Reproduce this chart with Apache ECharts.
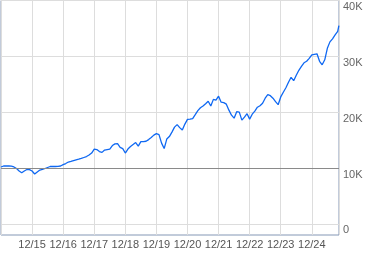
<!DOCTYPE html>
<html>
<head>
<meta charset="utf-8">
<script src="https://cdn.jsdelivr.net/npm/echarts@6/dist/echarts.min.js"></script>
<style>
html,body{margin:0;padding:0;background:#fff;}
#c{width:379px;height:255px;}
</style>
</head>
<body>
<div id="c"></div>
<script>
// Monthly dates (first of month) and portfolio value in K
var dates = [
'2015-01-01','2015-02-01','2015-03-01','2015-04-01','2015-05-01','2015-06-01','2015-07-01','2015-08-01','2015-09-01','2015-10-01','2015-11-01','2015-12-01',
'2016-01-01','2016-02-01','2016-03-01','2016-04-01','2016-05-01','2016-06-01','2016-07-01','2016-08-01','2016-09-01','2016-10-01','2016-11-01','2016-12-01',
'2017-01-01','2017-02-01','2017-03-01','2017-04-01','2017-05-01','2017-06-01','2017-07-01','2017-08-01','2017-09-01','2017-10-01','2017-11-01','2017-12-01',
'2018-01-01','2018-02-01','2018-03-01','2018-04-01','2018-05-01','2018-06-01','2018-07-01','2018-08-01','2018-09-01','2018-10-01','2018-11-01','2018-12-01',
'2019-01-01','2019-02-01','2019-03-01','2019-04-01','2019-05-01','2019-06-01','2019-07-01','2019-08-01','2019-09-01','2019-10-01','2019-11-01','2019-12-01',
'2020-01-01','2020-02-01','2020-03-01','2020-04-01','2020-05-01','2020-06-01','2020-07-01','2020-08-01','2020-09-01','2020-10-01','2020-11-01','2020-12-01',
'2021-01-01','2021-02-01','2021-03-01','2021-04-01','2021-05-01','2021-06-01','2021-07-01','2021-08-01','2021-09-01','2021-10-01','2021-11-01','2021-12-01',
'2022-01-01','2022-02-01','2022-03-01','2022-04-01','2022-05-01','2022-06-01','2022-07-01','2022-08-01','2022-09-01','2022-10-01','2022-11-01','2022-12-01',
'2023-01-01','2023-02-01','2023-03-01','2023-04-01','2023-05-01','2023-06-01','2023-07-01','2023-08-01','2023-09-01','2023-10-01','2023-11-01','2023-12-01',
'2024-01-01','2024-02-01','2024-03-01','2024-04-01','2024-05-01','2024-06-01','2024-07-01','2024-08-01','2024-09-01','2024-10-01','2024-11-01','2024-12-01',
'2025-01-01','2025-02-01','2025-03-01','2025-04-01','2025-05-01','2025-06-01','2025-07-01','2025-08-01','2025-09-01','2025-10-01','2025-11-01','2025-11-15'
];
var valuesK = [
10.18,10.36,10.36,10.36,10.32,10.18,9.91,9.46,9.14,9.46,9.73,9.71,
9.46,8.93,9.29,9.64,9.77,9.91,10.09,10.27,10.27,10.27,10.30,10.36,
10.59,10.80,11.07,11.20,11.34,11.46,11.57,11.71,11.88,12.05,12.32,12.68,
13.39,13.30,12.95,12.80,13.21,13.30,13.39,14.02,14.32,14.38,13.70,13.48,
12.68,13.39,13.84,14.20,14.55,13.93,14.73,14.73,14.79,15.09,15.45,15.89,
16.16,15.98,14.46,13.48,15.18,15.63,16.43,17.32,17.77,17.23,16.79,17.86,
18.70,18.75,18.84,19.55,20.27,20.79,21.11,21.52,21.96,21.11,22.29,22.14,
22.86,21.79,21.70,21.43,20.36,19.46,18.93,20.09,20.00,18.57,19.11,19.73,
18.75,19.64,20.18,20.89,21.16,21.61,22.50,23.13,22.95,22.50,21.88,21.34,
22.73,23.57,24.38,25.36,26.25,25.63,26.61,27.50,28.21,28.84,29.11,29.64,
30.27,30.36,30.45,29.11,28.48,29.38,31.43,32.59,33.13,33.84,34.46,35.50
];
var yTicks = [0, 10000, 20000, 30000, 40000];
var yTickLabels = ['0', '10K', '20K', '30K', '40K'];
var baseline = 10000;

function toYear(s) {
  var p = s.split('-');
  return +p[0] + (+p[1] - 1) / 12 + (+p[2] - 1) / 365;
}
var data = dates.map(function (d, i) { return [toYear(d), valuesK[i] * 1000]; });

var chart = echarts.init(document.getElementById('c'), null, {renderer: 'canvas'});
chart.setOption({
  animation: false,
  grid: {left: 1, right: 40, top: 0.5, bottom: 20, show: true, borderColor: '#8497b5', borderWidth: 1, containLabel: false},
  xAxis: {
    type: 'value', min: 2015, max: 2025.875, interval: 1,
    axisLine: {show: false}, axisTick: {show: false},
    splitLine: {show: true, lineStyle: {color: '#dddddd', width: 1}},
    axisLabel: {
      color: '#555', fontFamily: 'Liberation Sans, Arial', fontSize: 11, margin: 4,
      showMinLabel: false, showMaxLabel: false,
      formatter: function (v) {
        if (Math.abs(v - Math.round(v)) > 1e-6 || v <= 2015) return '';
        return '12/' + String(Math.round(v) - 1).slice(2);
      }
    }
  },
  yAxis: {
    type: 'value', position: 'right', min: -2000, max: 40000,
    axisLine: {show: false},
    axisTick: {show: false, customValues: yTicks},
    splitLine: {show: true, lineStyle: {color: '#dddddd', width: 1}},
    axisLabel: {
      customValues: yTicks,
      color: '#666', fontFamily: 'Liberation Sans, Arial', fontSize: 11, margin: 4,
      verticalAlign: 'top', padding: [1, 0, 0, 0],
      formatter: function (v) { return yTickLabels[yTicks.indexOf(v)]; }
    }
  },
  series: [{
    type: 'line', data: data, showSymbol: false, symbol: 'none',
    lineStyle: {color: '#0f68f2', width: 1.3},
    markLine: {
      silent: true, symbol: 'none', label: {show: false},
      lineStyle: {color: '#8a8a8a', width: 1, type: 'solid'},
      data: [{yAxis: baseline}]
    },
    z: 3
  }]
});
</script>
</body>
</html>
